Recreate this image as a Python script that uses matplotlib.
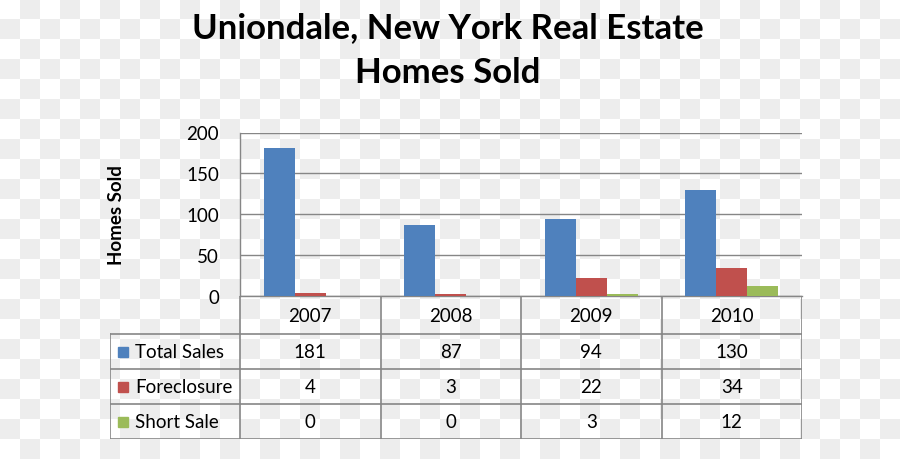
import numpy as np
import matplotlib
matplotlib.use("Agg")
import matplotlib.pyplot as plt

years = ["2007", "2008", "2009", "2010"]
series = ["Total Sales", "Foreclosure", "Short Sale"]
total_sales = [181, 87, 94, 130]
foreclosure = [4, 3, 22, 34]
short_sale = [0, 0, 3, 12]
colors = ["#4F81BD", "#C0504D", "#9BBB59"]
yticks = [0, 50, 100, 150, 200]

values = [total_sales, foreclosure, short_sale]

plt.rcParams["font.family"] = ["Lato", "DejaVu Sans"]

W, H = 900, 460
fig = plt.figure(figsize=(W / 100, H / 100), dpi=100)

# transparent-background checkerboard
yy, xx = np.mgrid[0:H, 0:W]
checker = ((yy // 20 + xx // 20) % 2).astype(float)
bg = np.where(checker[..., None] > 0, 0.933, 1.0) * np.ones((H, W, 3))
fig.figimage(bg, xo=0, yo=0, origin="upper", zorder=-10)


def px_axes(left, top, right, bottom):
    return [left / W, 1 - bottom / H, (right - left) / W, (bottom - top) / H]


GRID = "#868686"

# ---- bar chart --------------------------------------------------------------
ax = fig.add_axes(px_axes(240, 133.5, 802, 297))
ax.set_facecolor("none")
x = np.arange(len(years))
bw = 0.22
for i, (vals, c) in enumerate(zip(values, colors)):
    ax.bar(x + (i - 1) * bw, vals, width=bw, color=c, zorder=3)
ax.set_xlim(-0.5, len(years) - 0.5)
ax.set_ylim(0, 200)
ax.set_yticks(yticks)
ax.set_yticklabels([str(t) for t in yticks], fontsize=13.5)
ax.tick_params(axis="y", length=0, pad=15)
ax.set_xticks([])
ax.yaxis.grid(True, color=GRID, linewidth=1)
ax.set_axisbelow(True)
for s in ("top", "right"):
    ax.spines[s].set_visible(False)
for s in ("left", "bottom"):
    ax.spines[s].set_color(GRID)
    ax.spines[s].set_linewidth(1)
ax.set_ylabel("Homes Sold", fontsize=13.5, fontweight="bold", labelpad=44)

# ---- data table -------------------------------------------------------------
tax = fig.add_axes(px_axes(110, 297, 802, 440))
tax.set_facecolor("none")
tax.set_xlim(0, 692)
tax.set_ylim(143, 0)
tax.axis("off")
lab_w = 130
col_w = (692 - lab_w) / len(years)
rows = [0, 38, 73, 108, 143]
lk = dict(color=GRID, linewidth=1.2, solid_capstyle="projecting")
for r in rows[1:]:
    tax.plot([0, 692], [r, r], **lk)
tax.plot([0, 0], [rows[1], rows[-1]], **lk)
for j in range(len(years) + 1):
    cx = lab_w + j * col_w
    tax.plot([cx, cx], [0, rows[-1]], **lk)

for j, yr in enumerate(years):
    cx = lab_w + (j + 0.5) * col_w
    tax.text(cx, (rows[0] + rows[1]) / 2 + 1, yr, ha="center", va="center",
             fontsize=13.5)
    for i, vals in enumerate(values):
        cy = (rows[i + 1] + rows[i + 2]) / 2
        tax.text(cx, cy, str(vals[j]), ha="center", va="center", fontsize=13.5)

for i, (name, c) in enumerate(zip(series, colors)):
    cy = (rows[i + 1] + rows[i + 2]) / 2
    tax.add_patch(plt.Rectangle((8, cy - 5), 10, 10, color=c))
    tax.text(25, cy, name, ha="left", va="center", fontsize=13.5)

# ---- title ------------------------------------------------------------------
fig.text(448 / W, 1 - 28 / H, "Uniondale, New York Real Estate", ha="center",
         va="center", fontsize=25, fontweight="bold")
fig.text(448 / W, 1 - 73 / H, "Homes Sold", ha="center", va="center",
         fontsize=25, fontweight="bold")

fig.savefig("out.png", dpi=100)
